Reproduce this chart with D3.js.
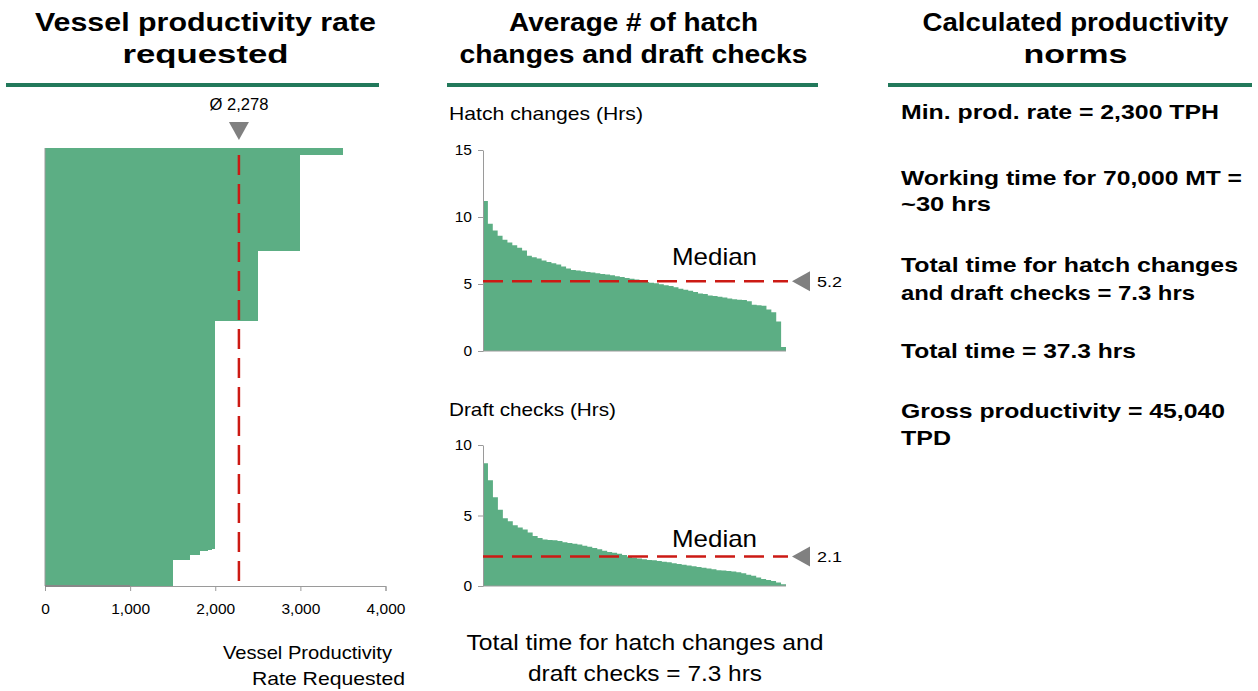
<!DOCTYPE html>
<html><head><meta charset="utf-8">
<script src="https://cdn.jsdelivr.net/npm/d3@7"></script>
<style>
body{margin:0;background:#fff;}
svg text{font-family:"Liberation Sans",Arial,sans-serif;fill:#000;}
</style></head>
<body><svg id="c" width="1258" height="691"></svg>
<script>
// ---- Data ----
const rateLevels   = [3500, 3000, 2500, 2000, 1960, 1910, 1820, 1700, 1500];
const vesselCounts = [6, 96, 70, 228, 1, 1, 4, 5, 25];
const rateAverage = 2278;
const rateTicks = [0, 1000, 2000, 3000, 4000];

const hatchHours = [11.2, 9.5, 9.0, 8.6, 8.3, 8.1, 7.9, 7.7, 7.5, 7.1, 7.0, 6.9, 6.75, 6.65, 6.55, 6.45,
  6.3, 6.15, 6.05, 6.0, 5.95, 5.9, 5.85, 5.8, 5.75, 5.7, 5.65, 5.58, 5.52, 5.45, 5.4, 5.33, 5.25,
  5.15, 5.1, 5.05, 4.98, 4.9, 4.85, 4.75, 4.65, 4.58, 4.5, 4.4, 4.3, 4.25, 4.15, 4.1, 4.05, 4.0,
  3.92, 3.86, 3.82, 3.8, 3.72, 3.45, 3.42, 3.38, 3.1, 2.9, 2.2, 0.3];
const hatchMedian = 5.2;
const hatchTicks = [0, 5, 10, 15];

const draftHours = [8.7, 7.5, 6.3, 5.4, 4.8, 4.6, 4.3, 4.15, 4.0, 3.8, 3.55, 3.4, 3.3, 3.27, 3.25, 3.2,
  3.1, 3.05, 3.0, 2.95, 2.85, 2.78, 2.7, 2.6, 2.5, 2.42, 2.35, 2.28, 2.2, 2.1, 2.0, 1.95, 1.9, 1.85,
  1.82, 1.78, 1.72, 1.68, 1.62, 1.56, 1.5, 1.45, 1.4, 1.35, 1.3, 1.25, 1.18, 1.12, 1.1, 1.07, 1.02,
  0.98, 0.9, 0.8, 0.72, 0.6, 0.5, 0.42, 0.35, 0.25, 0.12];
const draftMedian = 2.1;
const draftTicks = [0, 5, 10];

const titles = [
  ["Vessel productivity rate", "requested"],
  ["Average # of hatch", "changes and draft checks"],
  ["Calculated productivity", "norms"]
];
const normLines = [
  "Min. prod. rate = 2,300 TPH",
  "Working time for 70,000 MT =",
  "~30 hrs",
  "Total time for hatch changes",
  "and draft checks = 7.3 hrs",
  "Total time = 37.3 hrs",
  "Gross productivity = 45,040",
  "TPD"
];

// ---- Layout / style ----
const GREEN = "#5cae84", RULE = "#22795b", RED = "#cc1a14", GREY = "#808080", AXIS = "#9a9a9a";
const svg = d3.select("#c");
function txt(x, y, s, size, anchor, width, bold) {
  const t = svg.append("text").attr("x", x).attr("y", y).attr("text-anchor", anchor || "start")
    .style("font-size", size + "px").text(s);
  if (bold) t.style("font-weight", "bold");
  if (width) t.attr("textLength", width).attr("lengthAdjust", "spacingAndGlyphs");
  return t;
}

// ---- Titles and rules ----
const titleX = [205.5, 633.5, 1075.5];
const titleW = [[341, 166], [249, 348], [306, 104]];
const ruleSpans = [[6, 379], [447, 818], [888, 1252]];
titles.forEach((t, i) => {
  t.forEach((l, j) => txt(titleX[i], j ? 63 : 31, l, 25, "middle", titleW[i][j], true));
  svg.append("line").attr("x1", ruleSpans[i][0]).attr("x2", ruleSpans[i][1]).attr("y1", 85).attr("y2", 85)
    .attr("stroke", RULE).attr("stroke-width", 4);
});

// ---- Left chart ----
const xR = d3.scaleLinear().domain([0, 4000]).range([45, 385.5]);
const totalV = d3.sum(vesselCounts);
const yV = d3.scaleLinear().domain([0, totalV]).range([148, 585]);
const segs = [];
let cum = 0;
rateLevels.forEach((r, i) => { segs.push({r, s: cum, e: cum + vesselCounts[i]}); cum += vesselCounts[i]; });
svg.append("g").selectAll("rect").data(segs).join("rect")
  .attr("x", xR(0)).attr("y", d => yV(d.s)).attr("width", d => xR(d.r) - xR(0))
  .attr("height", d => yV(d.e) - yV(d.s) + 0.5).attr("fill", GREEN).attr("shape-rendering", "crispEdges");
svg.append("line").attr("x1", xR(0)).attr("x2", xR(0)).attr("y1", 148).attr("y2", 586).attr("stroke", AXIS);
const axL = svg.append("g").attr("transform", "translate(0,586)")
  .call(d3.axisBottom(xR).tickValues(rateTicks).tickFormat(d3.format(",")).tickSizeOuter(0).tickSize(5).tickPadding(12));
axL.select(".domain").attr("stroke", AXIS);
axL.selectAll(".tick line").attr("stroke", AXIS);
axL.selectAll("text").style("font-size", "15.5px").style("font-family", "Liberation Sans, Arial, sans-serif").attr("fill", "#000");
svg.append("line").attr("x1", xR(0)).attr("x2", xR(1000)).attr("y1", 586).attr("y2", 586).attr("stroke", "#888").attr("stroke-width", 2);
svg.append("line").attr("x1", xR(rateAverage)).attr("x2", xR(rateAverage)).attr("y1", 155).attr("y2", 586)
  .attr("stroke", RED).attr("stroke-width", 2.5).attr("stroke-dasharray", "20,9");
const ax = xR(rateAverage);
svg.append("path").attr("d", `M${ax - 10},122 L${ax + 10},122 L${ax},140 Z`).attr("fill", GREY);
txt(ax, 110, "Ø " + d3.format(",")(rateAverage), 16, "middle", 59);
txt(392, 659, "Vessel Productivity", 18.5, "end", 169);
txt(405, 685, "Rate Requested", 18.5, "end", 153);

// ---- Middle charts ----
function panel(vals, median, ticks, ymax, top, bottom, label, labelY, labelW, medianTextY) {
  const x = d3.scaleLinear().domain([0, vals.length]).range([483, 786]);
  const y = d3.scaleLinear().domain([0, ymax]).range([bottom, top]);
  const pts = vals.map((v, i) => [i, v]).concat([[vals.length, vals[vals.length - 1]]]);
  svg.append("path").datum(pts)
    .attr("d", d3.area().x(d => x(d[0])).y0(y(0)).y1(d => y(d[1])).curve(d3.curveStepAfter))
    .attr("fill", GREEN);
  const g = svg.append("g").attr("transform", "translate(483,0)")
    .call(d3.axisLeft(y).tickValues(ticks).tickSize(5).tickSizeOuter(0).tickPadding(6));
  g.select(".domain").attr("stroke", AXIS);
  g.selectAll(".tick line").attr("stroke", AXIS);
  g.selectAll("text").style("font-size", "15.5px").style("font-family", "Liberation Sans, Arial, sans-serif").attr("fill", "#000");
  svg.append("line").attr("x1", 483).attr("x2", 786).attr("y1", bottom).attr("y2", bottom).attr("stroke", AXIS);
  const my = y(median);
  svg.append("line").attr("x1", 483).attr("x2", 788).attr("y1", my).attr("y2", my)
    .attr("stroke", RED).attr("stroke-width", 2.5).attr("stroke-dasharray", "20,9");
  svg.append("path").attr("d", `M792,${my} L810,${my - 10} L810,${my + 10} Z`).attr("fill", GREY);
  txt(817, my + 6, median, 15.5, "start", 25);
  txt(672, medianTextY, "Median", 24, "start", 85);
  txt(449, labelY, label, 19, "start", labelW);
}
panel(hatchHours, hatchMedian, hatchTicks, 15, 150, 351, "Hatch changes (Hrs)", 120, 194, 265);
panel(draftHours, draftMedian, draftTicks, 10, 445, 586, "Draft checks (Hrs)", 416, 167, 547);

txt(645, 650, "Total time for hatch changes and", 22.5, "middle", 357);
txt(645, 681, "draft checks = 7.3 hrs", 22.5, "middle", 234);

// ---- Right column ----
const normY = [119, 185, 211, 272, 300, 358, 418, 445];
const normW = [318, 341, 90, 337, 294, 235, 324, 50];
normLines.forEach((l, i) => txt(901, normY[i], l, 21, "start", normW[i], true));
</script></body></html>
